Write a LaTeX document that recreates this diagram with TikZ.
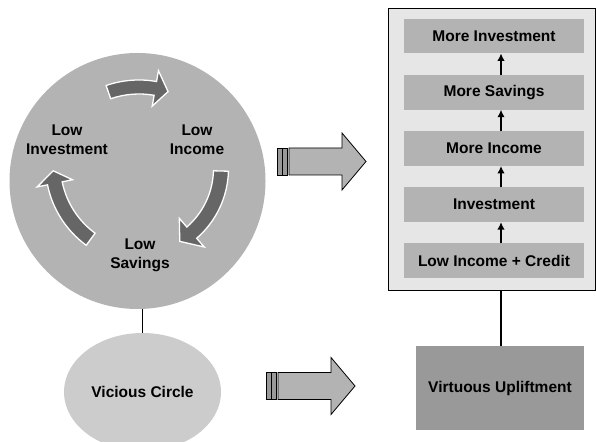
\documentclass[tikz,border=0pt]{standalone}
\usepackage{fontspec}
\setmainfont{Liberation Sans}
\usetikzlibrary{calc,arrows.meta,shapes.geometric}

\definecolor{cyclegray}{HTML}{B3B3B3}
\definecolor{ovalgray}{HTML}{CCCCCC}
\definecolor{turngray}{HTML}{666666}
\definecolor{panelgray}{HTML}{E6E6E6}
\definecolor{stagegray}{HTML}{B3B3B3}
\definecolor{darkgray}{HTML}{999999}

% thick curved arrow: centre x, centre y, radius, tail angle, head-base angle, tip angle, half width, half head width
\newcommand{\turnarrow}[8]{%
  \filldraw[turn]
    ($(#1,#2)+({#4}:{#3+#7})$) arc[start angle=#4, end angle=#5, radius={(#3+#7)*1pt}]
    -- ($(#1,#2)+({#5}:{#3+#8})$)
    -- ($(#1,#2)+({#6}:{#3})$)
    -- ($(#1,#2)+({#5}:{#3-#8})$)
    -- ($(#1,#2)+({#5}:{#3-#7})$)
    arc[start angle=#5, end angle=#4, radius={(#3-#7)*1pt}]
    -- cycle;}

% block arrow with two small tail bars: left x, centre y
\newcommand{\blockarrow}[2]{%
  \filldraw[stub] (#1,#2-13.5) rectangle ++(5,27);
  \filldraw[stub] (#1+5,#2-13.5) rectangle ++(5.5,27);
  \filldraw[block] (#1+12,#2-13.5) -- (#1+65,#2-13.5) -- (#1+65,#2-28.5)
    -- (#1+89,#2) -- (#1+65,#2+28.5) -- (#1+65,#2+13.5) -- (#1+12,#2+13.5) -- cycle;}

\tikzset{
  turn/.style={fill=turngray, draw=white, line width=1.3pt, line join=miter},
  stub/.style={fill=darkgray, draw=black, line width=0.8pt},
  block/.style={fill=cyclegray, draw=black, line width=0.8pt, line join=miter},
  label/.style={align=center, inner sep=0pt},
  stagebox/.style={fill=stagegray, minimum width=180pt, minimum height=34.5pt, inner sep=0pt},
  uparrow/.style={line width=1.4pt, -{Latex[length=7.5pt,width=7.5pt]}},
  link/.style={line width=1.1pt}
}

\begin{document}
\begin{tikzpicture}[x=1pt, y=1pt, font=\bfseries\fontsize{15.5}{19}\selectfont]
\useasboundingbox (0,0) rectangle (596,441);
\clip (0,0) rectangle (596,441);

% the vicious cycle
\node[circle, fill=cyclegray, minimum size=256pt, inner sep=0pt] (cycle) at (137.5,260) {};
\turnarrow{139}{260}{94}{109}{80}{72}{7}{18}
\turnarrow{136}{272.5}{85}{-1.7}{-49}{-59}{7.5}{19}
\turnarrow{145}{276}{92}{233.8}{191.5}{183.6}{7.5}{18}

\node[label] (lowinv) at (67,301) {Low\\Investment};
\node[label] (lowinc) at (197,301) {Low\\Income};
\node[label] (lowsav) at (140,186) {Low\\Savings};

\node[ellipse, fill=ovalgray, minimum width=157pt, minimum height=118pt, inner sep=0pt] (vicious) at (142.5,49) {Vicious Circle};
\draw[link] (vicious.north) -- (vicious.north |- cycle.south);

% transition arrows
\blockarrow{277}{279.5}
\blockarrow{266}{55}

% the virtuous ladder
\node[draw=black, line width=1pt, fill=panelgray, minimum width=207pt, minimum height=282pt, inner sep=0pt] (panel) at (491.5,291) {};
\node[stagebox] (s1) at (494,180.5) {Low Income + Credit};
\node[stagebox] (s2) at (494,236.3) {Investment};
\node[stagebox] (s3) at (494,292.5) {More Income};
\node[stagebox] (s4) at (494,348.7) {More Savings};
\node[stagebox] (s5) at (494,405) {More Investment};
\foreach \a/\b in {s1/s2, s2/s3, s3/s4, s4/s5}
  \draw[uparrow] ([xshift=7pt]\a.north) -- ([xshift=7pt]\b.south);

\node[fill=darkgray, minimum width=168pt, minimum height=84.5pt, inner sep=0pt] (virtue) at (500,52.75) {Virtuous Upliftment};
\draw[link] ([xshift=1pt]virtue.north) -- ([xshift=1pt]virtue.north |- panel.south);
\end{tikzpicture}
\end{document}
